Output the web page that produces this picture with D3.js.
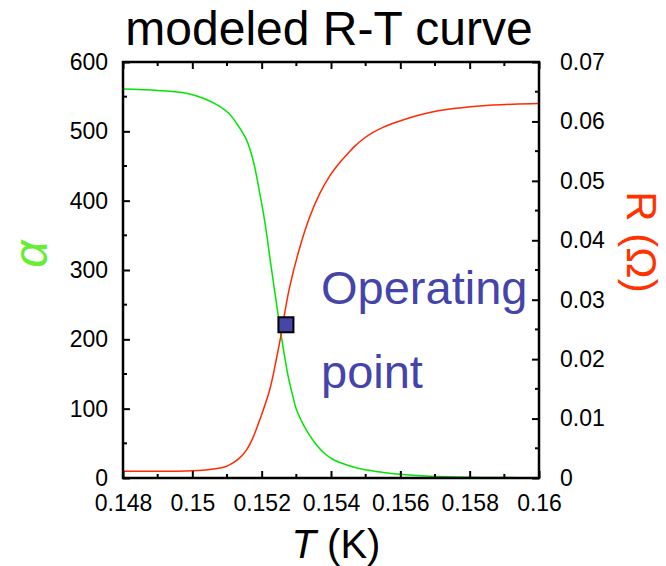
<!DOCTYPE html>
<html><head><meta charset="utf-8">
<script src="https://cdn.jsdelivr.net/npm/d3@7"></script>
<style>body{margin:0;background:#fff}svg{display:block}text{font-family:"Liberation Sans",Arial,sans-serif}</style>
</head><body>
<script>
const title = "modeled R-T curve";
const xTicks = [0.148,0.15,0.152,0.154,0.156,0.158,0.16];
const xTickLabels = ["0.148","0.15","0.152","0.154","0.156","0.158","0.16"];
const alphaTicks = [0,100,200,300,400,500,600];
const rTicks = [0,0.01,0.02,0.03,0.04,0.05,0.06,0.07];
const rTickLabels = ["0","0.01","0.02","0.03","0.04","0.05","0.06","0.07"];
// green: alpha vs T
const alphaT = [0.1480,0.1490,0.14983,0.1503,0.15079,0.15105,0.15127,0.15145,0.15156,0.15175,0.15185,0.15194,0.15204,0.15215,0.15223,0.15238,0.15255,0.15268,0.15278,0.1529,0.153,0.15315,0.15329,0.15356,0.1538,0.15405,0.1545,0.15492,0.1555,0.15598,0.15685,0.15791,0.159,0.16];
const alphaV = [561,559,555,548,536,526,512,498,488,459,436,412,385,350,320,268,210,170,143,118,99,82,69,49,36,27,18,12.5,8,5.3,2.7,1.2,0.6,0.3];
// red: R vs T
const rT = [0.1480,0.1495,0.1500,0.1503,0.1506,0.1509,0.1511,0.15135,0.15156,0.15175,0.15194,0.15223,0.15242,0.15255,0.15268,0.15281,0.1531,0.15339,0.15367,0.15396,0.1542,0.15444,0.15468,0.15492,0.1552,0.1555,0.1559,0.15637,0.15685,0.15733,0.15829,0.15925,0.1600];
const rV = [0.00113,0.00115,0.0012,0.0013,0.0015,0.0018,0.0023,0.0033,0.0047,0.0068,0.0097,0.0148,0.0199,0.0238,0.0283,0.0322,0.0388,0.0440,0.0478,0.0508,0.0527,0.0543,0.0558,0.0570,0.0581,0.0590,0.0599,0.0608,0.0615,0.0620,0.0626,0.0629,0.0630];
const opT = [0.1527];
const opAlpha = [221];
const opLabel = ["Operating","point"];

const W=666,H=566;
const m={l:123,r:539,t:62,b:478};
const svg=d3.select("body").append("svg").attr("width",W).attr("height",H);
const x=d3.scaleLinear().domain([0.148,0.16]).range([m.l,m.r]);
const yA=d3.scaleLinear().domain([0,600]).range([m.b,m.t]);
const yR=d3.scaleLinear().domain([0,0.07]).range([m.b,m.t]);

svg.append("clipPath").attr("id","c").append("rect").attr("x",m.l).attr("y",m.t).attr("width",m.r-m.l).attr("height",m.b-m.t);
const g=svg.append("g").attr("clip-path","url(#c)");
g.append("path").datum(d3.range(alphaT.length)).attr("fill","none").attr("stroke","#00e600").attr("stroke-width",1.5)
 .attr("d",d3.line().x(i=>x(alphaT[i])).y(i=>yA(alphaV[i])).curve(d3.curveCatmullRom.alpha(0.5)));
g.append("path").datum(d3.range(rT.length)).attr("fill","none").attr("stroke","#ff2a00").attr("stroke-width",1.5)
 .attr("d",d3.line().x(i=>x(rT[i])).y(i=>yR(rV[i])).curve(d3.curveCatmullRom.alpha(0.5)));

// axes
const ax=[
 [d3.axisBottom(x).tickValues(xTicks).tickFormat((d,i)=>xTickLabels[i]),`translate(0,${m.b})`,17],
 [d3.axisTop(x).tickValues(xTicks).tickFormat(""),`translate(0,${m.t})`,10],
 [d3.axisLeft(yA).tickValues(alphaTicks),`translate(${m.l},0)`,15],
 [d3.axisRight(yR).tickValues(rTicks).tickFormat((d,i)=>rTickLabels[i]),`translate(${m.r},0)`,21]
];
ax.forEach(([a,t,p])=>{
 const gg=svg.append("g").attr("transform",t).call(a.tickSizeInner(-7).tickSizeOuter(0).tickPadding(p));
 gg.select(".domain").remove();
 gg.selectAll("line").attr("stroke","#000").attr("stroke-width",2);
 gg.selectAll("text").attr("font-size",23).attr("fill","#000").attr("font-family","Liberation Sans, Arial, sans-serif");
});
// minor ticks
const mg=svg.append("g").attr("stroke","#000").attr("stroke-width",2);
[0.149,0.151,0.153,0.155,0.157,0.159].forEach(v=>{
 mg.append("line").attr("x1",x(v)).attr("x2",x(v)).attr("y1",m.b).attr("y2",m.b-4);
 mg.append("line").attr("x1",x(v)).attr("x2",x(v)).attr("y1",m.t).attr("y2",m.t+4);
});
[50,150,250,350,450,550].forEach(v=>mg.append("line").attr("x1",m.l).attr("x2",m.l+4).attr("y1",yA(v)).attr("y2",yA(v)));
[0.005,0.015,0.025,0.035,0.045,0.055,0.065].forEach(v=>mg.append("line").attr("x1",m.r).attr("x2",m.r-4).attr("y1",yR(v)).attr("y2",yR(v)));
svg.append("rect").attr("x",m.l).attr("y",m.t).attr("width",m.r-m.l).attr("height",m.b-m.t).attr("fill","none").attr("stroke","#000").attr("stroke-width",2.5);

// operating point
svg.selectAll("rect.op").data(opT).join("rect").attr("class","op")
 .attr("x",d=>x(d)-7.5).attr("y",(d,i)=>yA(opAlpha[i])-7.5).attr("width",15).attr("height",15)
 .attr("fill","#4646a6").attr("stroke","#000").attr("stroke-width",2);
svg.append("text").attr("x",321).attr("y",304).attr("font-size",47).attr("fill","#4444aa").text(opLabel[0]);
svg.append("text").attr("x",321).attr("y",388).attr("font-size",47).attr("fill","#4444aa").text(opLabel[1]);

// titles
svg.append("text").attr("x",329).attr("y",45).attr("text-anchor","middle").attr("font-size",48).attr("fill","#000").text(title);
const xl=svg.append("text").attr("x",336).attr("y",558).attr("text-anchor","middle").attr("font-size",40).attr("fill","#000");
xl.append("tspan").attr("font-style","italic").text("T");
xl.append("tspan").text(" (K)");
svg.append("text").attr("transform","translate(47,254) rotate(-90)").attr("text-anchor","middle")
 .attr("font-size",48).attr("font-style","italic").attr("font-family","DejaVu Serif, serif").attr("fill","#66ee33").text("α");
svg.append("text").attr("transform","translate(627,242) rotate(90)").attr("text-anchor","middle")
 .attr("font-size",42).attr("fill","#ff3300").text("R (Ω)");
</script>
</body></html>
